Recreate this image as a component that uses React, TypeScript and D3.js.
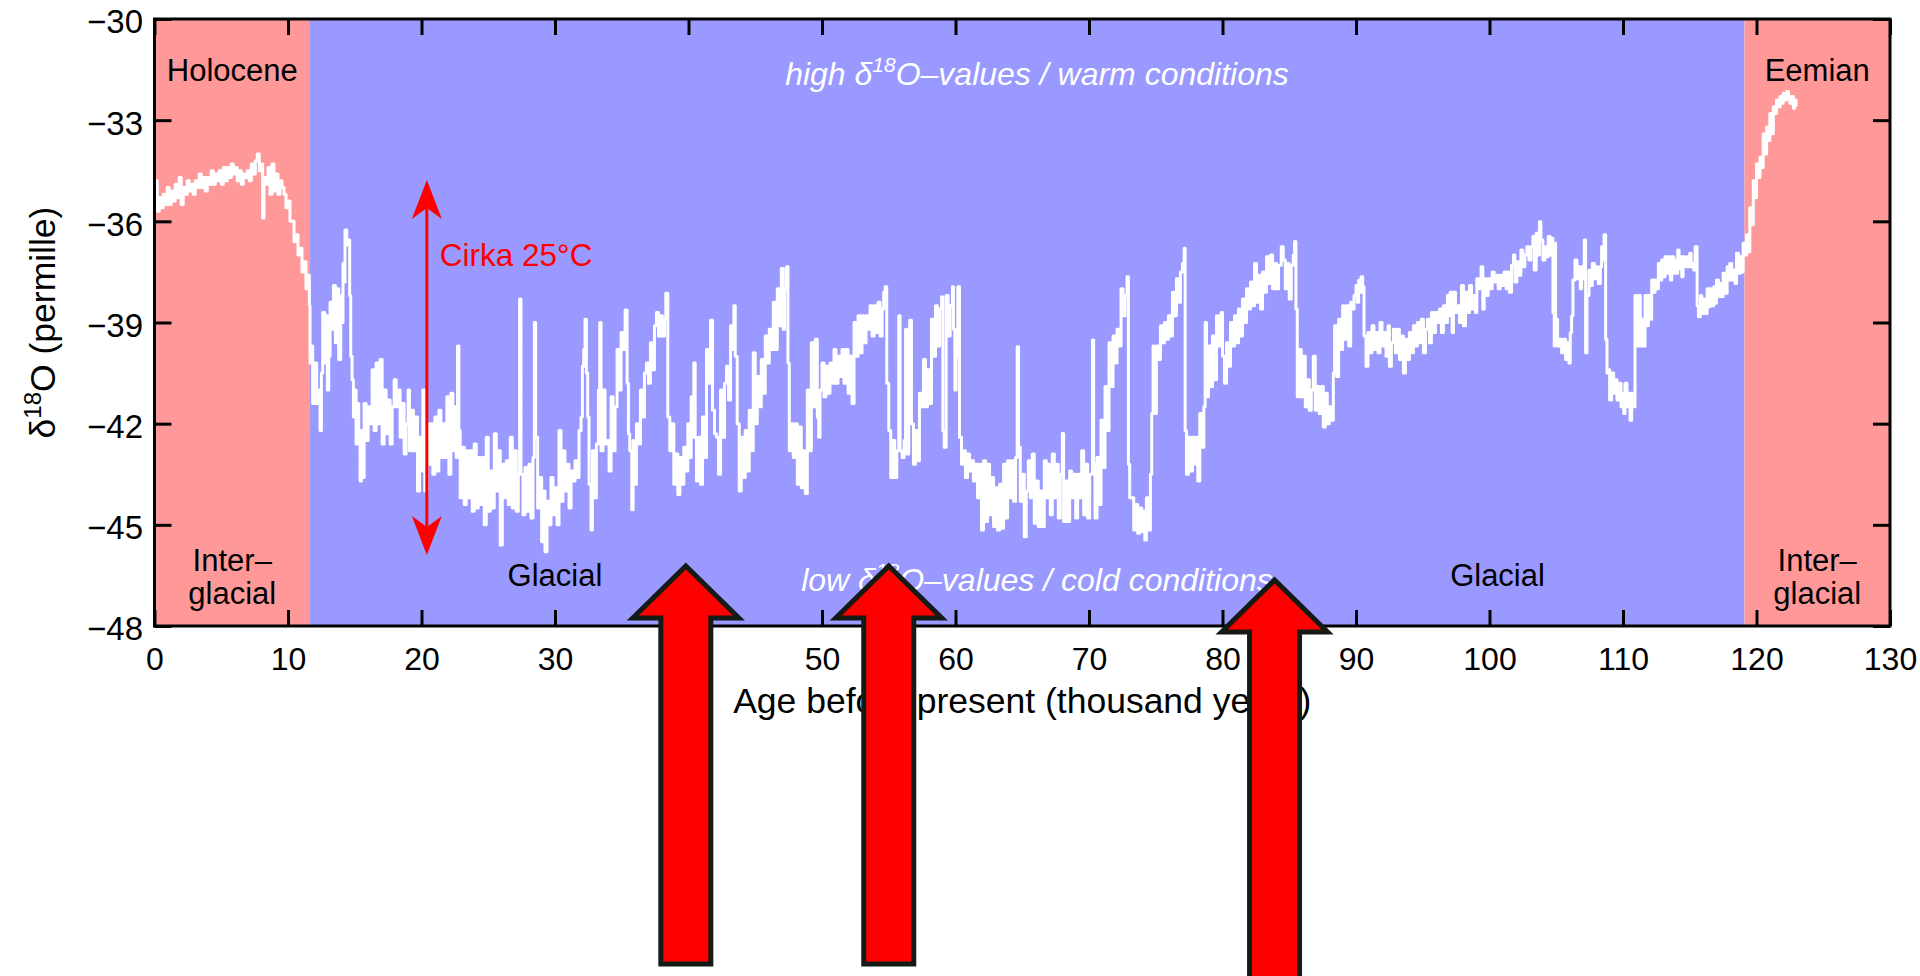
import React, { useRef, useEffect } from 'react';
import * as d3 from 'd3';

// δ18O record (age in thousand years BP, permille)
const holoceneRecord: [number, number][] = [
  [0.0, -35.4], [0.1, -34.8], [0.2, -35.7], [0.35, -35.3], [0.5, -35.6], [0.65, -35.2], [0.8, -35.5], [0.95, -35.0],
  [1.1, -35.5], [1.25, -35.1], [1.4, -35.4], [1.55, -34.9], [1.7, -35.3], [1.85, -34.7], [2.0, -35.5], [2.15, -35.0],
  [2.3, -35.2], [2.45, -34.8], [2.6, -35.1], [2.75, -34.9], [2.9, -35.2], [3.05, -34.8], [3.2, -35.0], [3.35, -34.6],
  [3.5, -35.0], [3.65, -34.7], [3.8, -35.1], [3.95, -34.7], [4.1, -34.9], [4.25, -34.5], [4.4, -34.9], [4.55, -34.6],
  [4.7, -34.8], [4.85, -34.5], [5.0, -34.9], [5.15, -34.4], [5.3, -34.8], [5.45, -34.4], [5.6, -34.7], [5.75, -34.3],
  [5.9, -34.6], [6.05, -34.4], [6.2, -34.8], [6.35, -34.5], [6.5, -34.9], [6.65, -34.6], [6.8, -34.7], [6.95, -34.5],
  [7.1, -34.8], [7.25, -34.3], [7.4, -34.6], [7.55, -34.2], [7.7, -34.0], [7.85, -34.5], [8.0, -34.3], [8.1, -35.9],
  [8.2, -34.7], [8.35, -34.9], [8.5, -34.4], [8.65, -35.2], [8.8, -34.3], [8.95, -35.1], [9.1, -34.6], [9.25, -35.2],
  [9.4, -34.8], [9.55, -35.0], [9.7, -35.2], [9.85, -35.6], [10.0, -35.4], [10.15, -36.0], [10.3, -36.0], [10.45, -36.6],
  [10.6, -36.4], [10.75, -37.0], [10.9, -36.8], [11.05, -37.5], [11.2, -37.2], [11.35, -38.0], [11.5, -37.6], [11.6, -38.5],
];

const lateGlacialRecord: [number, number][] = [
  [11.65, -40.2], [11.7, -39.7], [11.85, -41.4], [12.0, -40.2], [12.15, -41.4], [12.3, -41.0], [12.4, -42.2], [12.5, -40.5],
  [12.6, -38.7], [12.75, -40.2], [12.85, -38.8], [12.95, -41.0], [13.05, -40.0], [13.15, -38.4], [13.3, -39.2], [13.4, -37.9],
  [13.55, -39.6], [13.65, -38.0], [13.8, -40.1], [13.95, -38.2], [14.05, -39.0], [14.12, -37.25], [14.22, -37.8], [14.27, -36.26],
  [14.4, -36.7], [14.52, -36.55], [14.62, -38.2], [14.7, -40.0], [14.8, -40.7], [14.9, -41.8], [15.0, -41.0], [15.1, -42.6],
  [15.2, -41.4], [15.3, -42.4], [15.4, -43.7], [15.5, -42.2], [15.6, -43.6], [15.7, -41.4], [15.85, -42.5], [16.0, -41.5],
  [16.15, -42.0], [16.3, -40.4], [16.45, -42.2], [16.6, -40.2], [16.75, -42.0], [16.9, -40.1], [17.05, -42.6], [17.2, -41.0],
  [17.35, -42.3], [17.5, -41.3], [17.65, -42.6], [17.8, -41.5], [17.95, -40.7], [18.1, -41.5], [18.25, -41.0], [18.4, -42.4],
  [18.55, -41.4], [18.7, -42.9], [18.85, -42.0], [19.0, -41.0], [19.1, -42.8], [19.25, -41.6], [19.4, -42.8], [19.55, -41.8],
  [19.7, -44.0], [19.85, -42.4], [20.0, -43.4], [20.1, -41.0], [20.25, -44.0], [20.4, -42.0], [20.55, -43.2], [20.7, -42.0],
  [20.85, -43.5], [21.0, -41.8], [21.15, -43.4], [21.3, -41.6], [21.45, -43.0], [21.6, -42.0], [21.75, -43.0], [21.9, -41.2],
  [22.05, -43.5], [22.2, -41.1], [22.35, -42.8], [22.5, -41.5], [22.6, -43.0], [22.7, -39.7], [22.8, -42.2], [22.9, -44.2],
  [23.05, -42.7], [23.2, -44.4], [23.35, -42.8], [23.5, -44.2], [23.65, -42.8], [23.8, -44.6], [23.95, -42.6], [24.1, -44.5],
  [24.25, -43.0], [24.4, -44.4], [24.55, -43.0], [24.7, -45.0], [24.85, -42.4], [25.0, -44.6], [25.15, -43.4], [25.3, -44.5],
  [25.45, -42.3], [25.6, -44.0], [25.75, -42.8], [25.9, -45.6], [26.05, -43.2], [26.2, -44.2], [26.35, -43.1], [26.5, -44.4],
  [26.65, -42.4], [26.8, -44.5], [26.95, -42.8], [27.1, -44.6], [27.25, -43.5], [27.35, -38.3], [27.45, -43.5], [27.6, -44.7],
  [27.75, -43.3], [27.9, -44.6], [28.05, -43.2], [28.2, -44.8], [28.35, -43.0], [28.45, -39.0], [28.55, -42.4], [28.7, -44.5],
  [28.85, -43.6], [29.0, -45.5], [29.15, -44.0], [29.25, -45.8], [29.4, -44.3], [29.55, -45.0], [29.7, -43.6], [29.85, -44.7],
];

const midGlacialRecord: [number, number][] = [
  [30.0, -43.9], [30.15, -45.0], [30.3, -42.2], [30.45, -44.3], [30.6, -42.8], [30.75, -44.0], [30.9, -43.2], [31.05, -44.5],
  [31.2, -43.4], [31.35, -43.7], [31.5, -43.1], [31.65, -43.6], [31.8, -42.2], [31.95, -41.8], [32.05, -40.3], [32.15, -39.8],
  [32.25, -38.9], [32.35, -40.5], [32.45, -41.8], [32.55, -43.8], [32.7, -45.15], [32.8, -42.8], [32.95, -44.2], [33.1, -42.6],
  [33.25, -41.0], [33.35, -39.0], [33.45, -42.8], [33.6, -41.0], [33.75, -42.6], [33.9, -42.5], [34.05, -43.4], [34.2, -41.2],
  [34.35, -42.8], [34.5, -41.5], [34.65, -39.8], [34.8, -41.0], [34.95, -39.3], [35.1, -39.8], [35.25, -38.63], [35.4, -40.8],
  [35.5, -42.3], [35.6, -42.8], [35.75, -44.55], [35.85, -42.5], [35.95, -43.8], [36.1, -42.0], [36.25, -42.6], [36.4, -41.0],
  [36.55, -41.8], [36.7, -40.5], [36.85, -40.2], [37.0, -40.8], [37.15, -39.6], [37.3, -40.4], [37.45, -39.1], [37.6, -38.7],
  [37.75, -39.4], [37.9, -38.8], [38.05, -39.4], [38.2, -38.9], [38.3, -38.13], [38.45, -41.8], [38.6, -42.8], [38.75, -42.0],
  [38.9, -43.8], [39.05, -42.9], [39.2, -44.1], [39.35, -43.0], [39.5, -43.8], [39.65, -42.7], [39.8, -43.4], [39.95, -42.0],
  [40.1, -43.0], [40.2, -41.2], [40.3, -42.4], [40.4, -40.2], [40.5, -42.4], [40.6, -43.7], [40.75, -42.4], [40.9, -43.8],
  [41.05, -41.8], [41.2, -43.0], [41.35, -39.8], [41.5, -40.8], [41.65, -38.93], [41.8, -41.6], [41.95, -42.3], [42.1, -42.4],
  [42.25, -43.5], [42.4, -41.0], [42.55, -42.4], [42.7, -40.8], [42.85, -40.3], [43.0, -41.3], [43.15, -39.1], [43.25, -39.8],
  [43.4, -38.5], [43.5, -40.0], [43.65, -42.0], [43.8, -44.0], [43.95, -42.4], [44.1, -43.6], [44.25, -42.2], [44.4, -43.4],
  [44.55, -41.6], [44.7, -42.8], [44.85, -39.9], [45.0, -42.0], [45.15, -40.6], [45.3, -41.5], [45.45, -40.1], [45.6, -41.1],
  [45.75, -39.4], [45.9, -40.2], [46.05, -39.2], [46.2, -39.8], [46.35, -38.4], [46.5, -39.8], [46.65, -38.0], [46.8, -39.1],
  [46.95, -37.4], [47.1, -39.2], [47.2, -38.0], [47.34, -37.35], [47.45, -40.2], [47.55, -42.8], [47.7, -42.0], [47.85, -43.0],
  [48.0, -42.0], [48.15, -43.8], [48.3, -42.1], [48.45, -43.9], [48.6, -42.8], [48.75, -44.07], [48.9, -41.0], [49.05, -42.8],
  [49.2, -39.6], [49.35, -41.5], [49.5, -39.5], [49.65, -41.8], [49.75, -42.4], [49.85, -41.0], [50.0, -40.2], [50.15, -41.2],
  [50.3, -40.3], [50.45, -41.1], [50.6, -40.2], [50.75, -40.8], [50.9, -39.8], [51.05, -40.8], [51.2, -40.0], [51.35, -40.6],
  [51.5, -39.8], [51.65, -40.8], [51.8, -39.8], [51.95, -41.1], [52.1, -40.0], [52.25, -41.4], [52.4, -39.0], [52.55, -40.0],
  [52.7, -38.8], [52.85, -39.9], [53.0, -38.8], [53.15, -39.6], [53.3, -38.8], [53.45, -39.2], [53.6, -38.5], [53.75, -39.4],
  [53.9, -38.5], [54.05, -39.3], [54.2, -38.4], [54.35, -39.4], [54.5, -38.6], [54.62, -38.1], [54.73, -37.94], [54.85, -40.8],
  [55.0, -42.2], [55.15, -43.6], [55.3, -42.5], [55.45, -43.6], [55.6, -42.8], [55.75, -38.8], [55.85, -42.8], [56.0, -43.0],
  [56.15, -42.5], [56.26, -39.2], [56.35, -42.9], [56.5, -42.0], [56.57, -38.93], [56.7, -42.0], [56.85, -43.2], [57.0, -42.2],
  [57.15, -43.1], [57.3, -41.1], [57.45, -41.5], [57.6, -40.1], [57.75, -41.5], [57.9, -40.4], [58.05, -41.4], [58.2, -38.9],
  [58.35, -40.0], [58.5, -38.5], [58.65, -39.7], [58.8, -38.6], [58.96, -38.24], [59.05, -42.2], [59.15, -42.7], [59.3, -38.2],
  [59.45, -39.4], [59.6, -38.5], [59.77, -37.94], [59.85, -39.2], [59.95, -41.0],
];

const earlyGlacialRecord: [number, number][] = [
  [60.05, -40.0], [60.17, -37.94], [60.3, -42.4], [60.45, -43.2], [60.6, -42.8], [60.75, -43.6], [60.9, -42.9], [61.05, -43.4],
  [61.2, -43.1], [61.35, -43.7], [61.5, -43.2], [61.65, -44.2], [61.8, -43.2], [61.95, -45.15], [62.1, -43.1], [62.25, -44.9],
  [62.4, -43.2], [62.55, -44.7], [62.7, -43.6], [62.85, -45.05], [63.0, -43.9], [63.15, -45.15], [63.3, -43.8], [63.45, -45.1],
  [63.6, -43.2], [63.75, -44.8], [63.9, -43.1], [64.05, -44.2], [64.2, -43.1], [64.35, -44.3], [64.5, -43.0], [64.62, -39.72],
  [64.72, -42.7], [64.85, -44.3], [65.0, -43.5], [65.15, -45.35], [65.3, -44.0], [65.45, -43.1], [65.6, -44.2], [65.75, -42.9],
  [65.9, -44.95], [66.05, -43.7], [66.2, -45.05], [66.35, -44.0], [66.5, -45.05], [66.65, -43.1], [66.8, -44.2], [66.95, -43.2],
  [67.1, -44.7], [67.25, -42.9], [67.4, -44.2], [67.55, -43.2], [67.7, -44.8], [67.85, -43.5], [68.0, -42.29], [68.1, -44.9],
  [68.25, -43.7], [68.4, -44.9], [68.55, -43.4], [68.7, -44.2], [68.85, -43.5], [69.0, -44.8], [69.15, -43.5], [69.3, -44.2],
  [69.45, -42.8], [69.6, -44.7], [69.75, -43.2], [69.9, -44.8], [70.05, -43.5], [70.26, -39.52], [70.35, -43.2], [70.45, -44.8],
  [70.6, -43.0], [70.75, -44.4], [70.9, -41.9], [71.05, -43.3], [71.2, -40.9], [71.35, -42.2], [71.5, -39.6], [71.65, -40.9],
  [71.8, -39.4], [71.95, -40.2], [72.1, -39.2], [72.25, -39.7], [72.4, -38.0], [72.55, -38.8], [72.7, -38.2], [72.85, -37.64],
  [72.95, -43.2], [73.05, -44.2], [73.2, -44.2], [73.35, -45.15], [73.5, -44.4], [73.65, -45.25], [73.8, -44.5], [73.95, -45.2],
  [74.1, -44.6], [74.18, -45.45], [74.3, -44.2], [74.45, -45.15], [74.6, -43.5], [74.7, -41.7], [74.8, -39.7], [74.9, -41.7],
  [75.05, -39.7], [75.2, -40.1], [75.35, -39.1], [75.5, -39.6], [75.65, -39.0], [75.8, -39.5], [75.95, -38.8], [76.1, -39.4],
  [76.25, -38.1], [76.4, -38.8], [76.55, -37.7], [76.7, -38.4], [76.85, -37.5], [77.0, -37.25], [77.13, -36.8], [77.2, -42.2],
  [77.3, -43.5], [77.45, -42.4], [77.6, -43.4], [77.75, -42.4], [77.9, -43.2], [78.05, -42.4], [78.15, -43.7], [78.3, -41.7],
  [78.45, -42.7], [78.6, -41.5], [78.7, -39.0], [78.8, -41.2], [78.95, -39.7], [79.1, -40.9], [79.25, -39.4], [79.4, -40.7],
  [79.55, -38.8], [79.7, -39.7], [79.9, -38.7], [80.0, -40.0], [80.15, -40.8], [80.3, -39.6], [80.45, -40.3], [80.6, -39.0],
  [80.75, -39.7], [80.9, -38.8], [81.05, -39.6], [81.2, -38.6], [81.35, -39.4], [81.5, -38.3], [81.65, -39.0], [81.8, -38.0],
  [81.95, -38.6], [82.1, -37.8], [82.25, -38.5], [82.4, -37.25], [82.55, -38.4], [82.7, -37.6], [82.85, -38.6], [83.0, -37.5],
  [83.15, -38.1], [83.3, -37.05], [83.45, -37.84], [83.6, -37.0], [83.75, -38.0], [83.9, -37.25], [84.05, -38.0], [84.2, -37.3],
  [84.4, -36.75], [84.55, -37.15], [84.7, -38.0], [84.85, -37.25], [85.0, -38.3], [85.15, -37.3], [85.3, -37.0], [85.4, -36.6],
  [85.5, -38.6], [85.6, -41.2], [85.75, -39.8], [85.9, -41.2], [86.05, -40.0], [86.2, -41.5], [86.35, -40.7], [86.5, -41.6],
  [86.65, -41.0], [86.8, -40.0], [86.95, -41.6], [87.1, -40.9], [87.25, -41.7], [87.4, -40.9], [87.55, -42.1], [87.7, -41.1],
  [87.85, -42.0], [88.0, -41.5], [88.15, -41.9], [88.3, -40.5], [88.4, -39.1], [88.55, -40.6], [88.7, -38.9], [88.85, -39.8],
  [89.0, -38.5], [89.15, -39.5], [89.3, -38.5], [89.45, -39.7], [89.6, -38.4], [89.75, -38.6], [89.85, -38.2],
];

const glacialOnsetRecord: [number, number][] = [
  [90.0, -37.9], [90.1, -38.4], [90.2, -37.75], [90.3, -38.1], [90.38, -37.64], [90.5, -37.94], [90.6, -39.4], [90.75, -40.3],
  [90.9, -39.3], [91.05, -39.9], [91.2, -39.1], [91.35, -39.8], [91.5, -39.3], [91.65, -39.9], [91.8, -39.0], [91.95, -39.7],
  [92.1, -39.3], [92.25, -40.0], [92.4, -39.1], [92.5, -40.3], [92.65, -39.6], [92.8, -39.2], [92.95, -39.9], [93.1, -39.2],
  [93.25, -40.1], [93.4, -39.4], [93.55, -40.5], [93.7, -39.5], [93.85, -40.1], [94.0, -39.3], [94.15, -39.9], [94.3, -39.1],
  [94.45, -39.7], [94.6, -39.0], [94.75, -39.6], [94.9, -38.9], [95.05, -39.9], [95.2, -39.2], [95.35, -38.9], [95.5, -39.6],
  [95.65, -38.7], [95.8, -39.3], [95.95, -38.7], [96.1, -39.0], [96.25, -38.6], [96.4, -39.3], [96.55, -38.5], [96.7, -39.0],
  [96.85, -38.2], [96.95, -38.8], [97.05, -38.1], [97.2, -39.3], [97.3, -38.1], [97.45, -38.7], [97.6, -38.5], [97.75, -39.0],
  [97.9, -37.9], [98.05, -39.1], [98.2, -38.1], [98.35, -38.7], [98.5, -37.9], [98.65, -38.6], [98.8, -38.2], [98.95, -38.7],
  [99.05, -37.7], [99.2, -38.0], [99.37, -37.35], [99.5, -38.6], [99.6, -37.7], [99.75, -38.2], [99.9, -37.7], [100.05, -38.0],
  [100.2, -37.5], [100.35, -37.8], [100.5, -37.6], [100.65, -38.0], [100.8, -37.6], [100.95, -37.9], [101.1, -37.5], [101.25, -38.0],
  [101.4, -37.5], [101.5, -38.1], [101.65, -37.3], [101.8, -37.0], [101.9, -37.8], [102.05, -37.2], [102.2, -37.6], [102.35, -36.85],
  [102.5, -37.35], [102.65, -37.0], [102.8, -36.75], [102.95, -37.15], [103.1, -36.75], [103.25, -36.45], [103.35, -37.44], [103.5, -36.35],
  [103.6, -37.0], [103.74, -36.01], [103.85, -36.55], [104.0, -37.15], [104.15, -36.75], [104.3, -37.05], [104.4, -36.45], [104.55, -37.0],
  [104.65, -36.5], [104.75, -38.7], [104.85, -39.7], [104.9, -36.65], [104.95, -38.9], [105.1, -39.7], [105.25, -39.5], [105.4, -39.9],
  [105.55, -39.5], [105.7, -40.1], [105.85, -39.6], [105.95, -40.2], [106.05, -39.3], [106.15, -38.8], [106.25, -37.74], [106.4, -37.15],
  [106.55, -37.7], [106.7, -37.35], [106.8, -38.0], [106.9, -37.35], [107.0, -37.7], [107.1, -36.55], [107.2, -39.9], [107.3, -38.2],
  [107.45, -37.45], [107.55, -37.9], [107.7, -37.25], [107.85, -37.7], [108.0, -37.35], [108.15, -37.84], [108.3, -37.35], [108.4, -36.75],
  [108.5, -37.15], [108.58, -36.4], [108.7, -39.5], [108.8, -40.5], [108.9, -40.4], [109.0, -41.3], [109.15, -40.5], [109.3, -41.1],
  [109.4, -40.7], [109.55, -41.3], [109.7, -40.8], [109.85, -41.5], [109.95, -41.1], [110.05, -41.7], [110.15, -40.8], [110.3, -41.5],
  [110.4, -41.1], [110.53, -41.9], [110.65, -41.1], [110.75, -41.5], [110.9, -38.2], [111.0, -39.7], [111.15, -38.2], [111.3, -39.7],
  [111.4, -38.9], [111.55, -39.7], [111.65, -38.2], [111.8, -39.1], [111.9, -38.2], [112.05, -38.9], [112.15, -37.74], [112.3, -38.1],
  [112.4, -37.74], [112.55, -38.0], [112.65, -37.25], [112.8, -37.74], [112.9, -37.15], [113.05, -37.64], [113.15, -37.05], [113.3, -37.54],
  [113.4, -37.05], [113.55, -37.74], [113.65, -37.05], [113.8, -37.54], [113.9, -37.15], [114.0, -37.54], [114.1, -36.85], [114.2, -37.4],
  [114.3, -37.05], [114.4, -37.64], [114.5, -37.05], [114.65, -37.35], [114.8, -37.05], [114.9, -37.35], [115.0, -36.95], [115.1, -37.35],
  [115.2, -37.25], [115.3, -37.44], [115.4, -36.75], [115.55, -38.5], [115.65, -38.83], [115.8, -38.2], [115.9, -38.73], [116.0, -38.3],
  [116.15, -38.73], [116.3, -38.0], [116.4, -38.53], [116.5, -38.0], [116.65, -38.5], [116.8, -37.94], [116.9, -38.43], [117.0, -37.74],
  [117.15, -38.23], [117.3, -37.84], [117.4, -38.23], [117.5, -37.54], [117.65, -38.13], [117.8, -37.35], [117.9, -37.74], [118.0, -37.25],
  [118.15, -37.74], [118.3, -37.44], [118.4, -37.84], [118.5, -36.95], [118.65, -37.54], [118.8, -37.05], [118.9, -37.5], [119.0, -36.65],
];

const eemianRecord: [number, number][] = [
  [119.1, -37.0], [119.26, -36.4], [119.4, -36.9], [119.5, -35.6], [119.6, -36.1], [119.76, -34.8], [119.85, -35.3], [120.0, -34.3],
  [120.1, -34.7], [120.26, -34.1], [120.35, -34.4], [120.5, -33.4], [120.6, -34.0], [120.76, -33.2], [120.85, -33.6], [121.0, -32.8],
  [121.1, -33.4], [121.26, -32.6], [121.4, -32.8], [121.5, -32.4], [121.65, -32.6], [121.76, -32.3], [121.9, -32.5], [122.0, -32.2],
  [122.1, -32.4], [122.26, -32.15], [122.4, -32.3], [122.5, -32.5], [122.6, -32.3], [122.76, -32.65], [122.85, -32.4], [122.96, -32.6],
];

const xTicks = [0, 10, 20, 30, 40, 50, 60, 70, 80, 90, 100, 110, 120, 130];
const yTicks = [-30, -33, -36, -39, -42, -45, -48];

// climate periods (ka BP)
const interglacialSpans: [number, number][] = [[0, 11.65], [119.1, 130]];
const glacialSpan: [number, number] = [11.65, 119.1];
const glacialLabelAges = [30, 100.6];
const highlightArrowAges = [39.8, 55.0, 83.9];

const FONT = '"Liberation Sans", Arial, Helvetica, sans-serif';

const App = () => {
  const svgRef = useRef<SVGSVGElement>(null);

  useEffect(() => {
    if (svgRef.current) drawChart(svgRef.current);
  }, []);

  return (
    <svg ref={svgRef} width={1920} height={976}
      style={{ position: 'absolute', left: 0, top: 0, background: '#fff' }} />
  );
};

function drawChart(el: SVGSVGElement) {
  const svg = d3.select(el);
  svg.selectAll('*').remove();

  const left = 154.5, right = 1890, top = 19, bottom = 626;

  const x = d3.scaleLinear().domain([0, 130]).range([left, right]);
  const y = d3.scaleLinear().domain([-48, -30]).range([bottom, top]);

  // background periods
  svg.append('rect')
    .attr('x', x(glacialSpan[0])).attr('y', top)
    .attr('width', x(glacialSpan[1]) - x(glacialSpan[0])).attr('height', bottom - top)
    .attr('fill', '#9999ff');

  svg.selectAll('.inter')
    .data(interglacialSpans)
    .enter().append('rect')
    .attr('class', 'inter')
    .attr('x', d => x(d[0])).attr('y', top)
    .attr('width', d => x(d[1]) - x(d[0])).attr('height', bottom - top)
    .attr('fill', '#ff9999');

  // record
  const record = [
    ...holoceneRecord, ...lateGlacialRecord, ...midGlacialRecord,
    ...earlyGlacialRecord, ...glacialOnsetRecord, ...eemianRecord,
  ];
  const line = d3.line<[number, number]>()
    .x(d => x(d[0]))
    .y(d => y(d[1]))
    .curve(d3.curveStepAfter);

  svg.append('path')
    .datum(record)
    .attr('d', line)
    .attr('fill', 'none')
    .attr('stroke', '#fff')
    .attr('stroke-width', 3)
    .attr('stroke-linejoin', 'round');

  // axes, ticks point inwards
  const styleAxis = (g: any) => {
    g.select('.domain').remove();
    g.selectAll('line').attr('stroke', '#000').attr('stroke-width', 3);
    g.attr('font-family', FONT).attr('font-size', 32);
    g.selectAll('text').attr('fill', '#000');
  };

  svg.append('g')
    .attr('transform', `translate(0,${bottom})`)
    .call(d3.axisBottom(x).tickValues(xTicks).tickSizeInner(-16).tickSizeOuter(0).tickPadding(21).tickFormat(d3.format('d')))
    .call(styleAxis);

  svg.append('g')
    .attr('transform', `translate(0,${top})`)
    .call(d3.axisTop(x).tickValues(xTicks).tickSizeInner(-16).tickSizeOuter(0).tickFormat(() => ''))
    .call(styleAxis);

  const gy = svg.append('g')
    .attr('transform', `translate(${left},0)`)
    .call(d3.axisLeft(y).tickValues(yTicks).tickSizeInner(-17).tickSizeOuter(0).tickPadding(11.5).tickFormat(d3.format('d')))
    .call(styleAxis);
  gy.attr('font-size', 33);
  gy.selectAll('text').attr('dy', '0.42em');

  svg.append('g')
    .attr('transform', `translate(${right},0)`)
    .call(d3.axisRight(y).tickValues(yTicks).tickSizeInner(-17).tickSizeOuter(0).tickFormat(() => ''))
    .call(styleAxis);

  svg.append('rect')
    .attr('x', left).attr('y', top)
    .attr('width', right - left).attr('height', bottom - top)
    .attr('fill', 'none').attr('stroke', '#000').attr('stroke-width', 3);

  // axis titles
  svg.append('text')
    .attr('x', (left + right) / 2).attr('y', 713)
    .attr('text-anchor', 'middle')
    .style('font-family', FONT).style('font-size', '35.5px')
    .text('Age before present (thousand years)');

  const ylab = svg.append('text')
    .attr('transform', `translate(55,${(top + bottom) / 2}) rotate(-90)`)
    .attr('text-anchor', 'middle')
    .style('font-family', FONT).style('font-size', '35.5px');
  ylab.append('tspan').text('δ');
  ylab.append('tspan').attr('dy', -14).style('font-size', '24px').text('18');
  ylab.append('tspan').attr('dy', 14).text('O (permille)');

  // period labels
  const label = (tx: number, ty: number, txt: string, color = '#000') =>
    svg.append('text')
      .attr('x', tx).attr('y', ty)
      .attr('text-anchor', 'middle')
      .style('font-family', FONT).style('font-size', '31px')
      .attr('fill', color)
      .text(txt);

  interglacialSpans.forEach((s, i) => {
    const cx = x((s[0] + s[1]) / 2);
    label(cx, 81, i === 0 ? 'Holocene' : 'Eemian');
    label(cx, 571, 'Inter–');
    label(cx, 604, 'glacial');
  });
  glacialLabelAges.forEach(a => label(x(a), 586, 'Glacial'));

  const note = (ty: number, pre: string, post: string) => {
    const t = svg.append('text')
      .attr('x', x(66.1)).attr('y', ty)
      .attr('text-anchor', 'middle')
      .attr('fill', '#fff')
      .style('font-family', FONT).style('font-size', '32px').style('font-style', 'italic');
    t.append('tspan').text(pre + ' δ');
    t.append('tspan').attr('dy', -13).style('font-size', '21px').text('18');
    t.append('tspan').attr('dy', 13).text('O–values / ' + post + ' conditions');
  };
  note(85, 'high', 'warm');
  note(591, 'low', 'cold');

  // ~25 °C double arrow
  const ax = x(20.4);
  const yTop = 180, yBot = 555;
  svg.append('line')
    .attr('x1', ax).attr('x2', ax).attr('y1', yTop + 20).attr('y2', yBot - 20)
    .attr('stroke', '#ff0000').attr('stroke-width', 3);
  svg.append('path')
    .attr('d', `M${ax},${yTop} L${ax + 15},${yTop + 39} L${ax},${yTop + 28} L${ax - 15},${yTop + 39} Z`)
    .attr('fill', '#ff0000');
  svg.append('path')
    .attr('d', `M${ax},${yBot} L${ax + 15},${yBot - 39} L${ax},${yBot - 28} L${ax - 15},${yBot - 39} Z`)
    .attr('fill', '#ff0000');
  svg.append('text')
    .attr('x', ax + 13).attr('y', 266)
    .attr('fill', '#ff0000')
    .style('font-family', FONT).style('font-size', '31.5px')
    .text('Cirka 25°C');

  // big highlight arrows
  const tips = [563, 563, 577];
  const ends = [964, 964, 990];
  svg.selectAll('.big-arrow')
    .data(highlightArrowAges)
    .enter().append('path')
    .attr('class', 'big-arrow')
    .attr('d', (a, i) => {
      const cx = x(a), t = tips[i] + 3, e = ends[i];
      const head = t + 52;
      return `M${cx},${t} L${cx + 53},${head} L${cx + 25},${head} L${cx + 25},${e} ` +
        `L${cx - 25},${e} L${cx - 25},${head} L${cx - 53},${head} Z`;
    })
    .attr('fill', '#ff0000')
    .attr('stroke', '#141a14')
    .attr('stroke-width', 5)
    .attr('stroke-linejoin', 'miter');
}

export default App;
